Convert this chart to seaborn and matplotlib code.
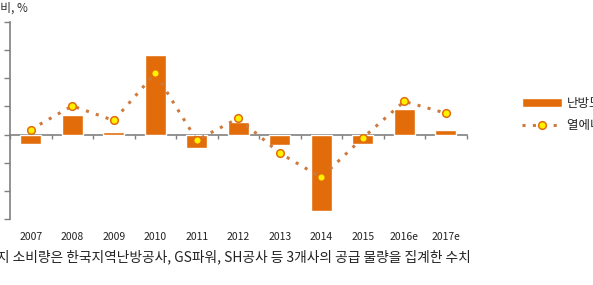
import numpy as np
import seaborn as sns
import matplotlib.pyplot as plt

# 전년 대비 증감률 (%)
years = ['2007', '2008', '2009', '2010', '2011', '2012', '2013', '2014', '2015', '2016e', '2017e']
heating_dd = [-1.6, 3.5, 0.5, 14.1, -2.4, 2.3, -1.9, -13.6, -1.7, 4.5, 0.8]
heat_energy = [0.9, 5.1, 2.5, 10.9, -1.0, 2.9, -3.3, -7.6, -0.6, 5.9, 3.8]
label_bar = '난방도일'
label_line = '열에너지 소비량'
y_min, y_max, y_step = -15, 20, 5

sns.set_theme(style='white')
plt.rcParams['font.family'] = ['Noto Sans CJK KR', 'DejaVu Sans']

fig = plt.figure(figsize=(5.93, 2.85), dpi=100)
ax = fig.add_axes([10 / 593, 1 - 219 / 285, 456.5 / 593, 197 / 285])

orange = '#E36C0A'
gray = '#808080'

sns.barplot(x=years, y=heating_dd, color=orange, width=0.5, saturation=1,
            ax=ax, label=label_bar)
x = np.arange(len(years))
sns.lineplot(x=x, y=heat_energy, ax=ax, color='#CC7A3E', linestyle=(0, (1, 2.4)),
             linewidth=2.2, marker='o', markersize=5.5, markerfacecolor='#FFF200',
             markeredgecolor=orange, markeredgewidth=1.1, label=label_line)

ax.set_xlim(-0.5, len(years) - 0.5)
ax.set_ylim(y_min, y_max)
ax.set_yticks(np.arange(y_min, y_max + 1, y_step))
ax.set_yticklabels([])
ax.tick_params(axis='y', direction='out', length=4, width=1, color=gray, left=True)
ax.tick_params(axis='x', length=0, labelsize=7.5, pad=9, colors='#222222')
ax.set_xlabel('')
for s in ['top', 'right', 'bottom']:
    ax.spines[s].set_visible(False)
ax.spines['left'].set_color(gray)
ax.spines['left'].set_linewidth(1.2)

# zero axis with small ticks between categories
zero_pos = (0 - y_min) / (y_max - y_min)
sec = ax.secondary_xaxis(zero_pos)
sec.set_xticks(np.arange(-0.5, len(years), 1))
sec.set_xticklabels([])
sec.tick_params(direction='out', length=3, width=1, color=gray)
sec.spines['bottom'].set_color(gray)
sec.spines['bottom'].set_linewidth(1.2)

handles, labels = ax.get_legend_handles_labels()
order = [labels.index(label_bar), labels.index(label_line)]
ax.legend([handles[i] for i in order], [labels[i] for i in order],
          loc='upper left', bbox_to_anchor=(512 / 456.5, 0.62), frameon=False,
          fontsize=9, handlelength=3.2, handletextpad=0.4, labelspacing=0.75,
          borderaxespad=0, borderpad=0)

fig.text(28 / 593, 1 - 8 / 285, '전년 대비, %', ha='right', va='center',
         fontsize=8.5, color='#333333')
fig.text(471 / 593, 1 - 257 / 285,
         '열에너지 소비량은 한국지역난방공사, GS파워, SH공사 등 3개사의 공급 물량을 집계한 수치',
         ha='right', va='center', fontsize=9.9, color='#222222')

fig.savefig('out.png', dpi=100)
